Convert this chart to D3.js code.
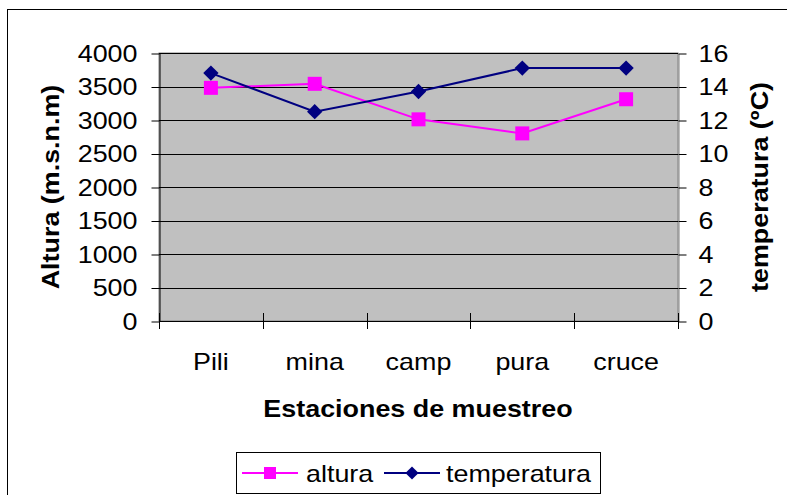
<!DOCTYPE html>
<html>
<head>
<meta charset="utf-8">
<script src="https://cdn.jsdelivr.net/npm/d3@7"></script>
<style>
  body { margin: 0; background: #fff; }
  svg text { font-family: "Liberation Sans", Arial, sans-serif; fill: #000; }
</style>
</head>
<body>
<svg id="chart"></svg>
<script>
// station data
const estaciones = ["Pili", "mina", "camp", "pura", "cruce"];
const altura = [3480, 3540, 3010, 2800, 3310];
const temperatura = [14.8, 12.5, 13.7, 15.1, 15.1];
const alturaTicks = [0, 500, 1000, 1500, 2000, 2500, 3000, 3500, 4000];
const tempTicks = [0, 2, 4, 6, 8, 10, 12, 14, 16];

const width = 787, height = 495;
const plot = { left: 159, top: 53, right: 678, bottom: 321 };
const fs = "24px";

const svg = d3.select("#chart").attr("width", width).attr("height", height);

// outer chart frame (runs past right/bottom edges)
svg.append("rect")
   .attr("x", 7.5).attr("y", 9.5)
   .attr("width", 800).attr("height", 500)
   .attr("fill", "#fff").attr("stroke", "#000").attr("stroke-width", 1);

const x = d3.scaleBand().domain(estaciones).range([plot.left, plot.right]);
const yL = d3.scaleLinear().domain([0, 4000]).range([plot.bottom, plot.top]);
const yR = d3.scaleLinear().domain([0, 16]).range([plot.bottom, plot.top]);

// plot background
svg.append("rect")
   .attr("x", plot.left).attr("y", plot.top)
   .attr("width", plot.right - plot.left).attr("height", plot.bottom - plot.top)
   .attr("fill", "#c0c0c0").attr("stroke", "#808080").attr("stroke-width", 1);

// gridlines
svg.selectAll(".grid")
   .data(alturaTicks.filter(d => d > 0)).enter()
   .append("line")
   .attr("x1", plot.left).attr("x2", plot.right)
   .attr("y1", d => Math.round(yL(d)) + 0.5).attr("y2", d => Math.round(yL(d)) + 0.5)
   .attr("stroke", "#000").attr("stroke-width", 1);

// left axis
const axL = svg.append("g")
   .attr("transform", `translate(${plot.left + 0.5},0.5)`)
   .call(d3.axisLeft(yL).tickValues(alturaTicks).tickFormat(d3.format("d"))
     .tickSize(8).tickPadding(14).tickSizeOuter(0));
axL.selectAll("text").style("font-size", fs);

// right axis
const axR = svg.append("g")
   .attr("transform", `translate(${plot.right + 0.5},0.5)`)
   .call(d3.axisRight(yR).tickValues(tempTicks).tickSize(8).tickPadding(12).tickSizeOuter(0));
axR.selectAll("text").style("font-size", fs);
axR.select(".domain").attr("stroke", "#808080");

// bottom axis: ticks at band edges, crossing the axis line
const edges = estaciones.map(d => x(d)).concat([plot.right]);
svg.append("line")
   .attr("x1", plot.left).attr("x2", plot.right)
   .attr("y1", plot.bottom + 0.5).attr("y2", plot.bottom + 0.5)
   .attr("stroke", "#000");
svg.selectAll(".xtick")
   .data(edges).enter()
   .append("line")
   .attr("x1", d => Math.round(d) + 0.5).attr("x2", d => Math.round(d) + 0.5)
   .attr("y1", plot.bottom - 8).attr("y2", plot.bottom + 8)
   .attr("stroke", "#000");
svg.selectAll(".xlabel")
   .data(estaciones).enter()
   .append("text")
   .attr("x", d => x(d) + x.bandwidth() / 2)
   .attr("y", 370)
   .attr("text-anchor", "middle")
   .style("font-size", fs)
   .text(d => d);

// axis titles
svg.append("text")
   .attr("x", 418).attr("y", 417)
   .attr("text-anchor", "middle")
   .style("font-size", fs).style("font-weight", "bold")
   .text("Estaciones de muestreo");
svg.append("text")
   .attr("transform", "translate(59,187) rotate(-90)")
   .attr("text-anchor", "middle")
   .style("font-size", fs).style("font-weight", "bold")
   .text("Altura (m.s.n.m)");
svg.append("text")
   .attr("transform", "translate(768,187) rotate(-90)")
   .attr("text-anchor", "middle")
   .style("font-size", fs).style("font-weight", "bold")
   .text("temperatura (ºC)");

const cx = d => x(d) + x.bandwidth() / 2;

// altura series
svg.append("path")
   .datum(altura)
   .attr("fill", "none").attr("stroke", "#ff00ff").attr("stroke-width", 2)
   .attr("d", d3.line().x((d, i) => cx(estaciones[i])).y(d => yL(d)));
svg.selectAll(".sq")
   .data(altura).enter()
   .append("rect")
   .attr("x", (d, i) => cx(estaciones[i]) - 7).attr("y", d => yL(d) - 7)
   .attr("width", 14).attr("height", 14)
   .attr("fill", "#ff00ff");

// temperatura series
svg.append("path")
   .datum(temperatura)
   .attr("fill", "none").attr("stroke", "#000080").attr("stroke-width", 2)
   .attr("d", d3.line().x((d, i) => cx(estaciones[i])).y(d => yR(d)));
const diamond = d3.symbol().type(d3.symbolDiamond2).size(150);
svg.selectAll(".dm")
   .data(temperatura).enter()
   .append("path")
   .attr("transform", (d, i) => `translate(${cx(estaciones[i])},${yR(d)})`)
   .attr("d", diamond)
   .attr("fill", "#000080");

// legend
const lg = svg.append("g").attr("transform", "translate(236,452)");
lg.append("rect")
   .attr("x", 0.5).attr("y", 0.5).attr("width", 364).attr("height", 41)
   .attr("fill", "#fff").attr("stroke", "#000");
lg.append("line").attr("x1", 6).attr("x2", 62).attr("y1", 21).attr("y2", 21)
   .attr("stroke", "#ff00ff").attr("stroke-width", 2);
lg.append("rect").attr("x", 28).attr("y", 15).attr("width", 12).attr("height", 12)
   .attr("fill", "#ff00ff");
lg.append("text").attr("x", 70).attr("y", 30).style("font-size", fs).text("altura");
lg.append("line").attr("x1", 148).attr("x2", 204).attr("y1", 21).attr("y2", 21)
   .attr("stroke", "#000080").attr("stroke-width", 2);
lg.append("path").attr("transform", "translate(176,21)")
   .attr("d", d3.symbol().type(d3.symbolDiamond2).size(110))
   .attr("fill", "#000080");
lg.append("text").attr("x", 210).attr("y", 30).style("font-size", fs).text("temperatura");

// the original glyphs are a little wider than Liberation Sans: stretch them
svg.selectAll("text").each(function() {
  const w = this.getComputedTextLength();
  d3.select(this).attr("textLength", w * 1.12).attr("lengthAdjust", "spacingAndGlyphs");
});
</script>
</body>
</html>
